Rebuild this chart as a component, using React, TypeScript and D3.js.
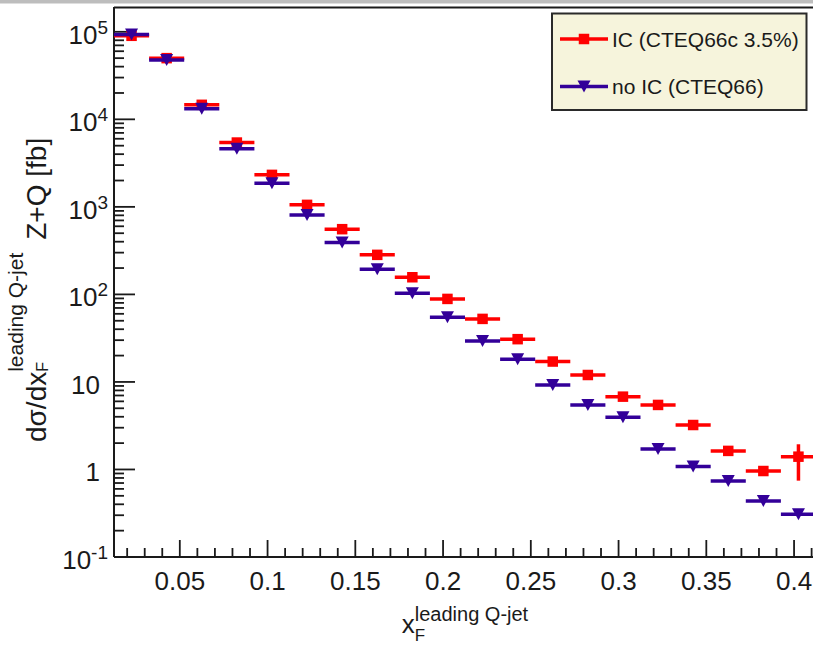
import React from "react";
import * as d3 from "d3";

// ---- data ----
const binCenters = [0.0225, 0.0425, 0.0625, 0.0825, 0.1025, 0.1225, 0.1425, 0.1625, 0.1825, 0.2025,
  0.2225, 0.2425, 0.2625, 0.2825, 0.3025, 0.3225, 0.3425, 0.3625, 0.3825, 0.4025];
const binHalfWidth = 0.01;
const icValues = [90000, 50000, 14650, 5430, 2320, 1054, 556, 283, 157, 88.8,
  52.5, 30.8, 17.1, 12.0, 6.79, 5.46, 3.22, 1.63, 0.96, 1.40];
const icErrDown = [0, 0, 0, 0, 0, 0, 0, 0, 0, 0, 0, 0, 0, 0, 0, 0, 0, 0, 0, 0.655];
const icErrUp = [0, 0, 0, 0, 0, 0, 0, 0, 0, 0, 0, 0, 0, 0, 0, 0, 0, 0, 0, 0.54];
const noIcValues = [93000, 47500, 13200, 4600, 1865, 810, 391, 194, 103, 54.9,
  29.4, 18.2, 9.24, 5.46, 3.95, 1.71, 1.08, 0.74, 0.436, 0.308];

const seriesNames = ["IC (CTEQ66c 3.5%)", "no IC (CTEQ66)"];
const xTickValues = [0.05, 0.1, 0.15, 0.2, 0.25, 0.3, 0.35, 0.4];
const xTickLabels = ["0.05", "0.1", "0.15", "0.2", "0.25", "0.3", "0.35", "0.4"];
const yTickValues = [0.1, 1, 10, 100, 1000, 10000, 100000];
const yTickBases = ["10", "1", "10", "10", "10", "10", "10"];
const yTickExps = ["-1", "", "", "2", "3", "4", "5"];

const W = 813;
const H = 646;
const FONT = "'Liberation Sans', Arial, Helvetica, sans-serif";
const RED = "#ff0000";
const BLUE = "#330099";
const INK = "#1a1a1a";

export default function App() {
  const left = 114, right = 816, top = 7, bottom = 557;
  const x = d3.scaleLinear().domain([0.0125, 0.4125]).range([left, right]);
  const y = d3.scaleLog().domain([0.1, 192000]).range([bottom, top]);

  const minorX = d3.range(2, 42).map((i) => i / 100);
  const minorY: number[] = [];
  for (let e = -1; e <= 4; e++) for (let k = 2; k <= 9; k++) minorY.push(k * Math.pow(10, e));

  const tri = "M -6.5 -6 L 6.5 -6 L 0 6 Z";
  const sq = 10.5;
  const bw = 3.5;

  return (
    <svg width={W} height={H} style={{ position: "absolute", left: 0, top: 0, background: "#fff" }}
      fontFamily={FONT}>
      <rect x={0} y={0} width={W} height={H} fill="#fff" />
      {/* top gray strip */}
      <rect x={0} y={0} width={W} height={3.5} fill="#bdbdbd" />

      {/* frame */}
      <line x1={left} x2={right} y1={top + 0.5} y2={top + 0.5} stroke={INK} strokeWidth={2} />
      <line x1={left} x2={left} y1={top} y2={bottom} stroke={INK} strokeWidth={2} />
      <line x1={left} x2={right} y1={bottom} y2={bottom} stroke={INK} strokeWidth={2} />

      {/* x ticks */}
      {minorX.map((t, i) => {
        const major = Math.abs(t * 20 - Math.round(t * 20)) < 1e-6;
        return <line key={"xt" + i} x1={x(t)} x2={x(t)} y1={bottom} y2={bottom - (major ? 17 : 9)}
          stroke={INK} strokeWidth={1.8} />;
      })}
      {xTickValues.map((t, i) => (
        <text key={"xl" + i} x={x(t)} y={590} fontSize={26} textAnchor="middle" fill={INK}>{xTickLabels[i]}</text>
      ))}

      {/* y ticks */}
      {minorY.map((t, i) => (
        <line key={"ym" + i} x1={left} x2={left + 10} y1={y(t)} y2={y(t)} stroke={INK} strokeWidth={1.8} />
      ))}
      {yTickValues.map((t, i) => (
        <line key={"yM" + i} x1={left} x2={left + 21} y1={y(t)} y2={y(t)} stroke={INK} strokeWidth={1.8} />
      ))}
      {yTickValues.map((t, i) => (
        <text key={"yl" + i} x={yTickExps[i] ? 108 : 100} y={y(t) + 12} fontSize={26} textAnchor="end" fill={INK}>
          {yTickBases[i]}
          {yTickExps[i] ? <tspan dy={-10} fontSize={19}>{yTickExps[i]}</tspan> : null}
        </text>
      ))}

      {/* IC series (red) */}
      {binCenters.map((c, i) => (
        <g key={"ic" + i}>
          <line x1={x(c - binHalfWidth)} x2={x(c + binHalfWidth)} y1={y(icValues[i])} y2={y(icValues[i])}
            stroke={RED} strokeWidth={bw} />
          {icErrUp[i] + icErrDown[i] > 0 ? (
            <line x1={x(c)} x2={x(c)} y1={y(icValues[i] + icErrUp[i])} y2={y(icValues[i] - icErrDown[i])}
              stroke={RED} strokeWidth={bw} />
          ) : null}
          <rect x={x(c) - sq / 2} y={y(icValues[i]) - sq / 2} width={sq} height={sq} fill={RED} />
        </g>
      ))}

      {/* no IC series (blue) */}
      {binCenters.map((c, i) => (
        <g key={"no" + i}>
          <line x1={x(c - binHalfWidth)} x2={x(c + binHalfWidth)} y1={y(noIcValues[i])} y2={y(noIcValues[i])}
            stroke={BLUE} strokeWidth={bw} />
          <path d={tri} transform={`translate(${x(c)},${y(noIcValues[i])})`} fill={BLUE} />
        </g>
      ))}

      {/* legend */}
      <rect x={552} y={13.5} width={254.5} height={96.5} fill="#f6f4dc" stroke="#2a2a2a" strokeWidth={2} />
      <line x1={560} x2={608} y1={39} y2={39} stroke={RED} strokeWidth={bw} />
      <rect x={584 - sq / 2} y={39 - sq / 2} width={sq} height={sq} fill={RED} />
      <text x={612} y={46.5} fontSize={21} fill={INK}>{seriesNames[0]}</text>
      <line x1={560} x2={608} y1={86.5} y2={86.5} stroke={BLUE} strokeWidth={bw} />
      <path d={tri} transform="translate(584,86.5)" fill={BLUE} />
      <text x={612} y={94} fontSize={21} fill={INK}>{seriesNames[1]}</text>

      {/* x title */}
      <text x={465} y={633} textAnchor="middle" fontSize={26} fill={INK}>
        x<tspan dy={8} fontSize={17}>F</tspan>
        <tspan dx={-10.4} dy={-20} fontSize={20}>leading Q-jet</tspan>
      </text>

      {/* y title */}
      <text transform="translate(46,442) rotate(-90)" x={0} y={0} fontSize={28} fill={INK}>
        dσ/dx<tspan dy={2} fontSize={16}>F</tspan>
        <tspan dx={-9.8} dy={-25} fontSize={21}>leading Q-jet</tspan>
        <tspan dx={13} dy={23}>Z+Q [fb]</tspan>
      </text>
    </svg>
  );
}
